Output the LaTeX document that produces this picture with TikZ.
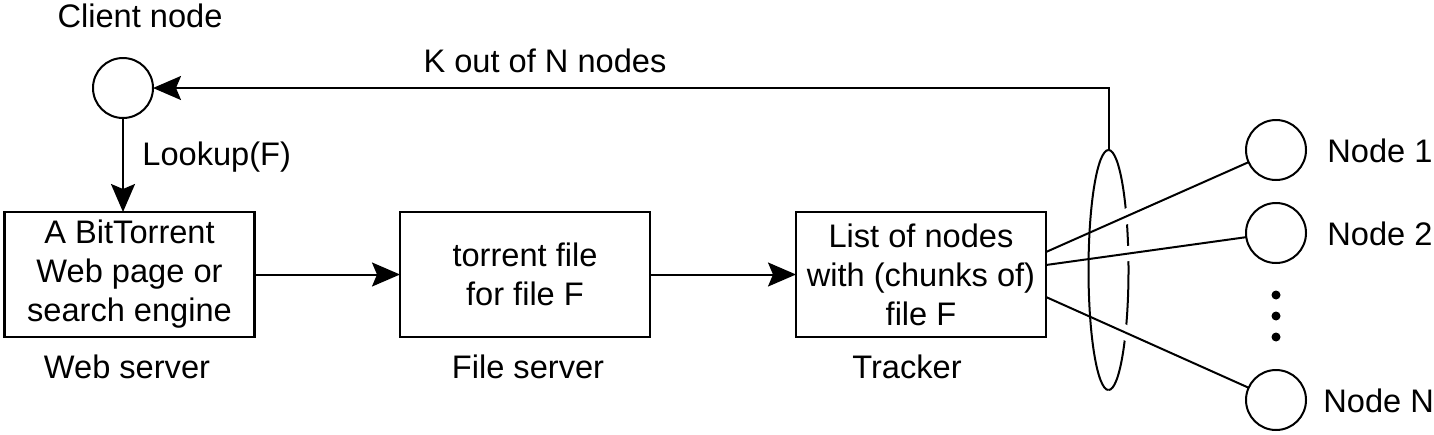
\documentclass[tikz,border=0pt]{standalone}
\usepackage{fontspec}
\setmainfont{Liberation Sans}
\usetikzlibrary{arrows.meta,shapes.geometric}
\begin{document}
\begin{tikzpicture}[x=0.5pt,y=-0.5pt,
  every node/.style={font=\fontsize{16.3}{19.5}\selectfont},
  box/.style={draw, line width=1.1pt, rectangle, minimum width=125pt, minimum height=62.5pt, align=center, inner sep=0pt, outer sep=0pt},
  peer/.style={draw, line width=1pt, circle, minimum size=30pt, inner sep=0pt, outer sep=0pt},
  lbl/.style={inner sep=0pt, anchor=base},
  link/.style={line width=1pt},
  arr/.style={line width=1pt, -{Stealth[length=14pt, width=12pt, inset=2.5pt]}},
  dot/.style={fill, circle, inner sep=0pt, minimum size=4.5pt}
]
\useasboundingbox (0,0) rectangle (1434,434);

% nodes
\node[peer] (client) at (123,88) {};
\node[box] (web) at (129.5,274.5) {A BitTorrent\\Web page or\\search engine};
\node[box] (file) at (525,274.5) {torrent file\\for file F};
\node[box] (tracker) at (921,274.5) {List of nodes\\with (chunks of)\\file F};
\node[peer] (n1) at (1276,150) {};
\node[peer] (n2) at (1276,233) {};
\node[peer] (nN) at (1276,400) {};
\node[dot] (d1) at (1276,295) {};
\node[dot] (d2) at (1276,316) {};
\node[dot] (d3) at (1276,337) {};
\node[ellipse, minimum width=20pt, minimum height=120pt, inner sep=0pt, outer sep=0pt] (ell) at (1108.5,270) {};

% labels
\node[lbl] (lclient) at (140,27) {Client node};
\node[lbl] (lk) at (545,72) {K out of N nodes};
\node[lbl, anchor=base west] (llookup) at (142,165) {Lookup(F)};
\node[lbl] (lweb) at (127,378) {Web server};
\node[lbl] (lfile) at (528,378) {File server};
\node[lbl] (ltrack) at (907,378) {Tracker};
\node[lbl, anchor=base west] (l1) at (1327,162) {Node 1};
\node[lbl, anchor=base west] (l2) at (1327,245) {Node 2};
\node[lbl, anchor=base west] (lN) at (1323,412) {Node N};

% connectors
\draw[arr] (client) -- (client |- web.north);
\draw[arr] (web) -- (file);
\draw[arr] (file) -- (tracker);

% back half of ellipse
\draw[link] (ell.south) arc[start angle=-90, end angle=90, x radius=10pt, y radius=60pt];
% halo where the links pass in front of the back half
\begin{scope}
  \clip (1112,140) rectangle (1160,400);
  \draw[white, line width=7.5pt] ([yshift=11.25pt]tracker.east) -- (n1);
  \draw[white, line width=7.5pt] ([yshift=4.75pt]tracker.east) -- (n2);
  \draw[white, line width=7.5pt] ([yshift=-11.25pt]tracker.east) -- (nN);
\end{scope}
\draw[link] ([yshift=11.25pt]tracker.east) -- (n1);
\draw[link] ([yshift=4.75pt]tracker.east) -- (n2);
\draw[link] ([yshift=-11.25pt]tracker.east) -- (nN);
% front half of ellipse
\draw[link] (ell.north) arc[start angle=90, end angle=270, x radius=10pt, y radius=60pt];

\draw[arr] (ell.north) |- (client.east);
\end{tikzpicture}
\end{document}
